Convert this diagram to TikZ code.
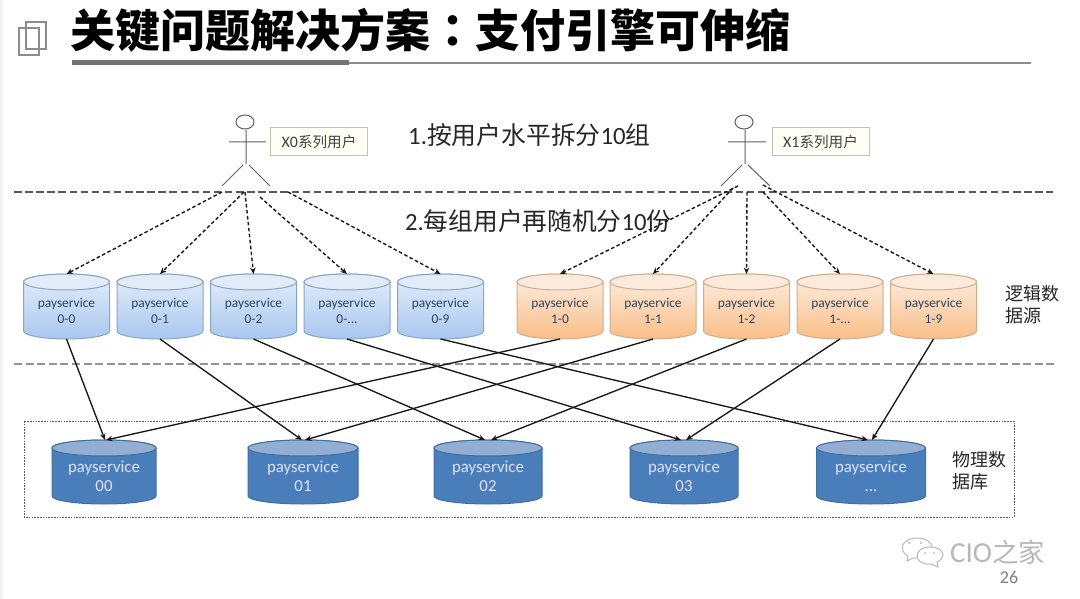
\documentclass[tikz,border=0pt]{standalone}
\usepackage{fontspec}
\setmainfont{Noto Sans CJK SC}
\newfontfamily\boldcjk{Noto Sans CJK SC Black}
\newfontfamily\boldtc{Noto Sans CJK TC Black}
\newfontfamily\lat{Carlito}
\usetikzlibrary{arrows.meta,calc}
\newcommand\ddd{...}
\definecolor{bluea}{HTML}{E4EEFA}
\definecolor{blueb}{HTML}{A8C7EF}
\definecolor{bluee}{HTML}{8AA5C4}
\definecolor{bluet}{HTML}{E2ECF9}
\definecolor{orana}{HTML}{FDEEE1}
\definecolor{oranb}{HTML}{F9BE87}
\definecolor{orane}{HTML}{CFAE90}
\definecolor{orant}{HTML}{FCEBDC}
\definecolor{darka}{HTML}{4A7EBB}
\definecolor{darkb}{HTML}{4A7EBB}
\definecolor{darke}{HTML}{41709F}
\definecolor{darkt}{HTML}{92AFD3}
\definecolor{cyltxt}{HTML}{2F4360}
\definecolor{labline}{HTML}{BFC6A8}
\tikzset{
  cylbox/.style={inner sep=0pt, outer sep=0pt, draw=none},
  smalltxt/.style={font=\lat\fontsize{13.4}{16}\selectfont, text=cyltxt, align=center, inner sep=0pt},
  bigtxt/.style={font=\lat\fontsize{16.8}{19}\selectfont, text=white!88!blue, align=center, inner sep=0pt},
  link/.style={draw=black!90, line width=1.35pt, -{Stealth[length=6.5pt,width=5.5pt]}},
  dlink/.style={draw=black!90, line width=1.4pt, dash pattern=on 3.6pt off 2.4pt, -{Stealth[length=6.5pt,width=5.5pt]}},
  seplineA/.style={draw=black!65, line width=1.6pt, dash pattern=on 7.5pt off 3.6pt},
  seplineB/.style={draw=black!42, line width=2.4pt, dash pattern=on 8pt off 3.6pt},
  actorline/.style={draw=black!62, line width=1pt},
  userlab/.style={draw=labline, fill=white!97!yellow, line width=1pt, minimum width=97pt, minimum height=28pt, inner sep=0pt, font=\fontsize{14.6}{16}\selectfont, text=black!75},
  note/.style={text=black!85, inner sep=0pt},
  side/.style={font=\fontsize{18}{22}\selectfont, text=black!85, align=left, inner sep=0pt, anchor=north west},
}
% name, cx, half width, top, bottom, colour kind
\newcommand\dbcyl[6]{%
  \path[draw=#6e, line width=1pt, top color=#6a, bottom color=#6b]
    ({#2-#3},{#4+8}) -- ({#2-#3},{#5-8}) arc[start angle=180,end angle=360,x radius=#3,y radius=-8]
    -- ({#2+#3},{#4+8}) arc[start angle=0,end angle=180,x radius=#3,y radius=-8] -- cycle;
  \path[draw=#6e, line width=1pt, fill=#6t] (#2,{#4+8}) circle[x radius=#3, y radius=8];
  \node[cylbox, minimum width={2*#3*1pt}, minimum height={(#5-#4)*1pt}] (#1) at (#2,{(#4+#5)/2}) {};
}
\begin{document}
\begin{tikzpicture}[x=1pt,y=-1pt]
\useasboundingbox (0,0) rectangle (1080,599);
\fill[white] (0,0) rectangle (1080,599);
\fill[black!5] (0,0) rectangle (3,599);
% title
\node[font=\boldcjk\fontsize{45}{50}\selectfont, anchor=west, inner sep=0pt] (title) at (70,30) {关键问题解决方案{\boldtc ：}支付引擎可伸缩};
\draw[black!45, line width=1.4pt] (72,63) -- (1031,63);
\draw[black!55, line width=5.5pt] (72,62.5) -- (349,62.5);
\draw[black!45, line width=2.8pt] (26,22) rectangle (46,49);
\draw[black!45, line width=2.8pt] (19,28) rectangle (39,55);
% separators
\coordinate (s1l) at (14,192); \coordinate (s1r) at (1053,192);
\coordinate (s2l) at (14,364); \coordinate (s2r) at (1055,364);
\draw[seplineA] (s1l) -- (s1r);
\draw[seplineB] (s2l) -- (s2r);
% physical box
\draw[black!65, line width=1pt, dash pattern=on 1.6pt off 1.2pt] (24,421) rectangle (1014,517);
% texts
\node[note, anchor=west, font=\fontsize{24.8}{28}\selectfont] (n1) at (408,135) {{\lat 1.}按用户水平拆分{\lat 10}组};
\node[note, anchor=west, font=\fontsize{24.7}{28}\selectfont] (n2) at (405,221) {{\lat 2.}每组用户再随机分{\lat 10}份};
\node[side] (logic) at (1005,285) {逻辑数\\据源};
\node[side] (phys) at (952,451) {物理数\\据库};
% actors
\draw[actorline] (245,122) circle[x radius=9,y radius=7];
\draw[actorline] (246,130) -- (246,164) (229,142) -- (266,142) (243,165) -- (222,186) (249,165) -- (270,186);
\node[userlab] (u0) at (319,142) {{\lat\fontsize{16}{16}\selectfont X0}系列用户};
\draw[actorline] (744,122) circle[x radius=9,y radius=7];
\draw[actorline] (745,130) -- (745,164) (728,142) -- (766,142) (742,165) -- (721,186) (748,165) -- (770,186);
\node[userlab] (u1) at (820.5,142) {{\lat\fontsize{16}{16}\selectfont X1}系列用户};
% logical cylinders
\foreach \n/\c/\t in {a0/66.5/0-0,a1/160/0-1,a2/253.5/0-2,a3/347/0-\ddd,a4/440.5/0-9}{
  \dbcyl{\n}{\c}{43}{274}{339}{blue}
  \node[smalltxt] (\n t) at (\c,311) {payservice\\\t};
}
\foreach \n/\c/\t in {b0/560/1-0,b1/653/1-1,b2/746.5/1-2,b3/840/1-\ddd,b4/933.5/1-9}{
  \dbcyl{\n}{\c}{43}{274}{339}{oran}
  \node[smalltxt] (\n t) at (\c,311) {payservice\\\t};
}
% physical cylinders
\foreach \n/\c/\w/\t in {p0/104/52/00,p1/303/55/01,p2/488/54/02,p3/684/54/03,p4/871/54.5/\ddd}{
  \dbcyl{\n}{\c}{\w}{440}{504}{dark}
  \node[bigtxt] (\n t) at (\c,476.5) {payservice\\\t};
}
% dashed links
\coordinate (x0a) at (222,192); \coordinate (x0b) at (244,192); \coordinate (x0c) at (245,192);
\coordinate (x0d) at (260,197); \coordinate (x0e) at (288,192);
\coordinate (x1a) at (738,186); \coordinate (x1b) at (733,188); \coordinate (x1c) at (747,192);
\coordinate (x1d) at (763,192); \coordinate (x1e) at (763,185);
\draw[dlink] (x0a) -- (a0.north);
\draw[dlink] (x0b) -- (a1.north);
\draw[dlink] (x0c) -- (a2.north);
\draw[dlink] (x0d) -- (a3.north);
\draw[dlink] (x0e) -- (a4.north);
\draw[dlink] (x1a) -- (b0.north);
\draw[dlink] (x1b) -- (b1.north);
\draw[dlink] (x1c) -- (b2.north);
\draw[dlink] (x1d) -- (b3.north);
\draw[dlink] (x1e) -- (b4.north);
% solid links
\draw[link] (a0.south) -- ([xshift=1pt]p0.north);
\draw[link] (a1.south) -- ([xshift=-1pt]p1.north);
\draw[link] (a2.south) -- ([xshift=-3pt]p2.north);
\draw[link] (a3.south) -- ([xshift=-3pt]p3.north);
\draw[link] (a4.south) -- ([xshift=-3pt]p4.north);
\draw[link] (b0.south) -- ([xshift=2pt]p0.north);
\draw[link] (b1.south) -- ([xshift=2pt]p1.north);
\draw[link] (b2.south) -- ([xshift=3pt]p2.north);
\draw[link] (b3.south) -- ([xshift=2pt]p3.north);
\draw[link] (b4.south) -- ([xshift=1pt]p4.north);
% watermark
\begin{scope}[draw=black!28, line width=1pt]
\path[draw, fill=white] (917,538) .. controls (905,538) and (900,546) .. (903,551) .. controls (904,554) and (906,555) .. (908,556) -- (907,561) -- (913,558) .. controls (922,559) and (932,554) .. (932,548) .. controls (932,542) and (926,538) .. (917,538) -- cycle;
\path[draw, fill=white] (930,547) .. controls (921,547) and (917,552) .. (917,556) .. controls (917,561) and (923,565) .. (931,564) -- (938,567) -- (937,562) .. controls (941,560) and (943,558) .. (943,555) .. controls (943,551) and (938,547) .. (930,547) -- cycle;
\fill[black!28] (909,543) circle[radius=1.2] (921,543) circle[radius=1.2] (925,553) circle[radius=1] (934,553) circle[radius=1];
\end{scope}
\node[font=\fontsize{26.5}{28}\selectfont, text=black!28, inner sep=0pt, anchor=west] (wm) at (950,552) {{\lat\fontsize{29}{28}\selectfont CIO}之家};
\node[font=\lat\fontsize{18}{20}\selectfont, text=black!50, inner sep=0pt] (page) at (1009,577) {26};
\end{tikzpicture}
\end{document}
